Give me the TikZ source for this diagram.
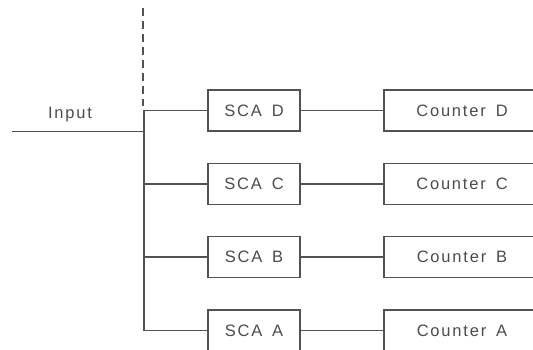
\documentclass[tikz,border=0pt]{standalone}
\usepackage{fontspec}
\setmainfont{Liberation Sans}[LetterSpace=11]
\begin{document}
\begin{tikzpicture}[x=1pt,y=-1pt,
  wire/.style={draw=black!68,line width=1.8pt},
  box/.style={draw=black!68,line width=1.8pt,minimum height=41pt,inner sep=0pt,
     text=black!70,font=\fontsize{16.5}{16.5}\selectfont},
  scabox/.style={box,minimum width=92pt},
  cntbox/.style={box,minimum width=156pt},
  lbl/.style={text=black!70,font=\fontsize{16.5}{16.5}\selectfont,inner sep=0pt}]
\clip (0,0) rectangle (533,350);
\fill[white] (0,0) rectangle (533,350);
% dashed boundary
\coordinate (dt) at (143,8);
\coordinate (db) at (143,106);
\draw[wire,dash pattern=on 8pt off 5pt] (dt) -- (db);
% input
\coordinate (in) at (12,131.5);
\coordinate (jin) at (144,131.5);
\node[lbl,anchor=base] (inl) at (70,119) {Input};
% boxes
\foreach \n/\y in {D/110.5,C/184,B/257,A/330.5}{
  \node[scabox] (sca\n) at (254,\y) {SCA\hspace{0.6em}\n};
  \node[cntbox] (cnt\n) at (462,\y) {Counter\hspace{0.6em}\n};
  \coordinate (j\n) at (144,\y);
  \draw[wire] (j\n) -- (sca\n.west);
  \draw[wire] (sca\n.east) -- (cnt\n.west);
}
\draw[wire] (in) -- (jin);
\draw[wire] (jD) -- (jA);
\end{tikzpicture}
\end{document}
